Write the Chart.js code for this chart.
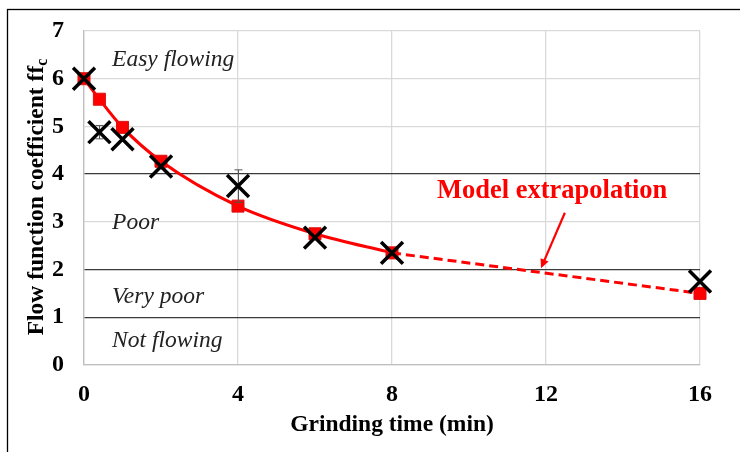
<!DOCTYPE html>
<html><head><meta charset="utf-8">
<script src="https://cdn.jsdelivr.net/npm/chart.js@4"></script>
<style>html,body{margin:0;padding:0;background:#fff}#wrap{width:740px;height:452px;position:relative}</style>
</head><body><div id="wrap"><canvas id="c" width="740" height="452"></canvas></div>
<script>
// Data
const modelTimes = [0, 0.4, 1, 2, 4, 6, 8];
const modelValues = [6.0, 5.57, 4.98, 4.27, 3.33, 2.75, 2.35];
const extrapTimes = [8, 16];
const extrapValues = [2.35, 1.5];
const expTimes = [0, 0.4, 1, 2, 4, 6, 8, 16];
const expValues = [6.0, 4.88, 4.73, 4.16, 3.75, 2.67, 2.35, 1.75];
const expErrors = [0, 0.14, 0, 0.05, 0.34, 0, 0, 0];
const modelMarkerTimes = [0, 0.4, 1, 2, 4, 6, 8, 16];
const modelMarkerValues = [6.0, 5.57, 4.98, 4.27, 3.33, 2.75, 2.35, 1.5];
const xTicks = [0, 4, 8, 12, 16];
const yTicks = [0, 1, 2, 3, 4, 5, 6, 7];
const regionLabels = ["Easy flowing", "Poor", "Very poor", "Not flowing"];
const regionLabelY = [6.4, 2.98, 1.43, 0.5];
const thresholdLines = [1, 2, 4];

const pts = (xs, ys) => xs.map((x, i) => ({x: x, y: ys[i]}));
const SERIF = '"Liberation Serif", "Times New Roman", serif';

const overlay = {
  id: 'overlay',
  beforeDraw(chart) {
    const c = chart.ctx;
    c.save();
    c.fillStyle = '#fff';
    c.fillRect(0, 0, chart.width, chart.height);
    c.strokeStyle = '#000';
    c.lineWidth = 1.3;
    c.strokeRect(7.5, 9.5, 900, 900);
    c.restore();
  },
  afterDraw(chart) {
    const c = chart.ctx, xs = chart.scales.x, ys = chart.scales.y;
    c.save();
    // region labels
    c.fillStyle = '#222';
    c.font = 'italic 23.5px ' + SERIF;
    c.textBaseline = 'middle';
    c.textAlign = 'left';
    regionLabels.forEach((t, i) => c.fillText(t, xs.getPixelForValue(0.73), ys.getPixelForValue(regionLabelY[i])));
    // model extrapolation annotation
    c.fillStyle = '#ff0000';
    c.font = 'bold 26.5px ' + SERIF;
    c.textAlign = 'center';
    c.fillText('Model extrapolation', xs.getPixelForValue(12.16), ys.getPixelForValue(3.65));
    const x1 = xs.getPixelForValue(12.49), y1 = ys.getPixelForValue(3.19);
    const x2 = xs.getPixelForValue(11.87), y2 = ys.getPixelForValue(2.03);
    c.strokeStyle = '#ff0000';
    c.lineWidth = 2.2;
    const ang = Math.atan2(y2 - y1, x2 - x1);
    const hl = 10;
    c.beginPath();
    c.moveTo(x1, y1);
    c.lineTo(x2 - Math.cos(ang) * 6, y2 - Math.sin(ang) * 6);
    c.stroke();
    c.beginPath();
    c.moveTo(x2, y2);
    c.lineTo(x2 - hl * Math.cos(ang - 0.45), y2 - hl * Math.sin(ang - 0.45));
    c.lineTo(x2 - hl * Math.cos(ang + 0.45), y2 - hl * Math.sin(ang + 0.45));
    c.closePath();
    c.fillStyle = '#ff0000';
    c.fill();
    // axis titles
    c.fillStyle = '#000';
    c.font = 'bold 23.5px ' + SERIF;
    c.textAlign = 'center';
    c.textBaseline = 'middle';
    c.fillText('Grinding time (min)', (xs.left + xs.right) / 2, 425);
    c.translate(37, 197);
    c.rotate(-Math.PI / 2);
    const main = 'Flow function coefficient ff';
    const w1 = c.measureText(main).width;
    c.font = 'bold 16px ' + SERIF;
    const w2 = c.measureText('c').width;
    const start = -(w1 + w2) / 2;
    c.textAlign = 'left';
    c.font = 'bold 23.5px ' + SERIF;
    c.fillText(main, start, 0);
    c.font = 'bold 16px ' + SERIF;
    c.fillText('c', start + w1, 6);
    c.restore();
  }
};

const errorBars = {
  id: 'errorBars',
  beforeDatasetDraw(chart, args) {
    if (args.index !== 3) return;
    const c = chart.ctx, xs = chart.scales.x, ys = chart.scales.y;
    c.save();
    c.strokeStyle = '#555';
    c.lineWidth = 1;
    expTimes.forEach((t, i) => {
      const e = expErrors[i];
      if (!e) return;
      const px = Math.round(xs.getPixelForValue(t)) + 0.5;
      const pt = ys.getPixelForValue(expValues[i] + e), pb = ys.getPixelForValue(expValues[i] - e);
      c.beginPath();
      c.moveTo(px, pt); c.lineTo(px, pb);
      c.moveTo(px - 4, pt); c.lineTo(px + 4, pt);
      c.moveTo(px - 4, pb); c.lineTo(px + 4, pb);
      c.stroke();
    });
    c.restore();
  }
};

new Chart(document.getElementById('c'), {
  type: 'scatter',
  data: {
    datasets: [
      {
        type: 'line', data: pts(modelTimes, modelValues), borderColor: '#ff0000', borderWidth: 3,
        pointRadius: 0, cubicInterpolationMode: 'monotone', fill: false, order: 4, clip: false
      },
      {
        type: 'line', data: pts(extrapTimes, extrapValues), borderColor: '#ff0000', borderWidth: 3,
        borderDash: [9, 5], pointRadius: 0, fill: false, order: 3, clip: false
      },
      {
        data: pts(modelMarkerTimes, modelMarkerValues), pointStyle: 'rect', pointRadius: 8.5,
        backgroundColor: '#ff0000', borderColor: '#d11', borderWidth: 1, order: 2, clip: false
      },
      {
        data: pts(expTimes, expValues), pointStyle: 'crossRot', pointRadius: 15.5,
        borderColor: '#000', borderWidth: 3.5, order: 1, clip: false
      }
    ]
  },
  options: {
    responsive: false, animation: false, events: [],
    layout: {padding: {left: 0, top: 31, right: 40, bottom: 0}},
    plugins: {legend: {display: false}, tooltip: {enabled: false}},
    scales: {
      x: {
        type: 'linear', min: 0, max: 16,
        afterBuildTicks: s => { s.ticks = xTicks.map(v => ({value: v})); },
        afterFit: s => { s.height = 87; },
        grid: {color: '#d9d9d9', lineWidth: 1.3, drawTicks: false},
        border: {color: '#bfbfbf', width: 1.3},
        ticks: {color: '#000', font: {family: SERIF, size: 24, weight: 'bold'}, padding: 15, maxRotation: 0}
      },
      y: {
        type: 'linear', min: 0, max: 7,
        afterBuildTicks: s => { s.ticks = yTicks.map(v => ({value: v})); },
        afterFit: s => { s.width = 84; },
        grid: {
          color: ctx => thresholdLines.includes(ctx.tick.value) ? '#3a3a3a' : '#d9d9d9',
          lineWidth: 1.3, drawTicks: false
        },
        border: {color: '#bfbfbf', width: 1.3},
        ticks: {color: '#000', font: {family: SERIF, size: 24, weight: 'bold', lineHeight: 0.8}, padding: 20}
      }
    }
  },
  plugins: [overlay, errorBars]
});
</script></body></html>
